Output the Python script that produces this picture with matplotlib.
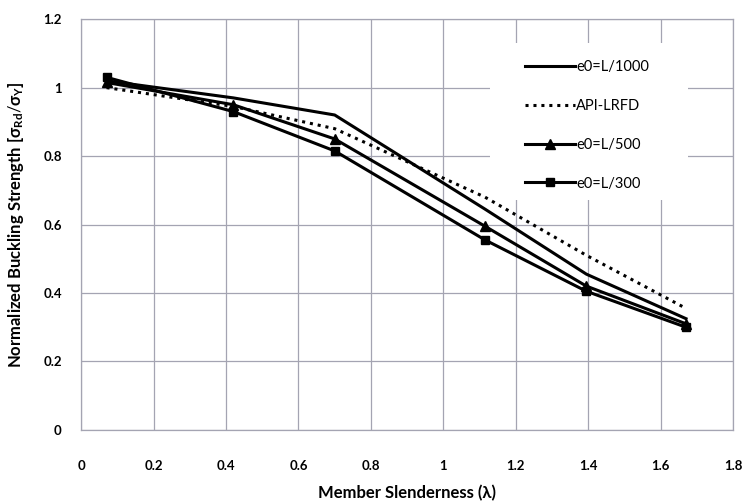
import matplotlib

matplotlib.use("Agg")
import matplotlib.pyplot as plt
from matplotlib.patches import Rectangle


SLENDERNESS = [0.07, 0.42, 0.70, 1.115, 1.395, 1.67]
E0_L1000 = [1.02, 0.97, 0.92, 0.645, 0.455, 0.325]
API_LRFD = [1.00, 0.945, 0.88, 0.68, 0.51, 0.355]
E0_L500 = [1.015, 0.95, 0.85, 0.595, 0.42, 0.31]
E0_L300 = [1.03, 0.93, 0.815, 0.555, 0.405, 0.30]

X_TICKS = [0, 0.2, 0.4, 0.6, 0.8, 1.0, 1.2, 1.4, 1.6, 1.8]
X_TICK_LABELS = ["0", "0.2", "0.4", "0.6", "0.8", "1", "1.2", "1.4", "1.6", "1.8"]
Y_TICKS = [0, 0.2, 0.4, 0.6, 0.8, 1.0, 1.2]
Y_TICK_LABELS = ["0", "0.2", "0.4", "0.6", "0.8", "1", "1.2"]

GRID_COLOR = "#a4a4b2"

plt.rcParams["font.family"] = ["Lato", "DejaVu Sans"]
plt.rcParams["mathtext.fontset"] = "custom"
plt.rcParams["mathtext.rm"] = "Lato"
plt.rcParams["mathtext.it"] = "Lato:bold"
plt.rcParams["mathtext.bf"] = "Lato:bold"

fig = plt.figure(figsize=(7.45, 5.04), dpi=100)
ax = fig.add_axes([0.109, 0.147, 0.875, 0.815])

ax.plot(SLENDERNESS, E0_L1000, color="black", linewidth=2.2, label="e0=L/1000", zorder=4)
ax.plot(SLENDERNESS, API_LRFD, color="black", linewidth=2.2, linestyle=(0, (1, 1.6)),
        label="API-LRFD", zorder=4)
ax.plot(SLENDERNESS, E0_L500, color="black", linewidth=2.2, marker="^", markersize=6.5,
        label="e0=L/500", zorder=4)
ax.plot(SLENDERNESS, E0_L300, color="black", linewidth=2.2, marker="s", markersize=6,
        label="e0=L/300", zorder=4)

ax.set_xlim(0, 1.8)
ax.set_ylim(0, 1.2)
ax.set_xticks(X_TICKS)
ax.set_xticklabels(X_TICK_LABELS)
ax.set_yticks(Y_TICKS)
ax.set_yticklabels(Y_TICK_LABELS)
ax.tick_params(axis="both", length=0, labelsize=9.5)
ax.tick_params(axis="x", pad=22)
ax.tick_params(axis="y", pad=14)
for label in ax.get_xticklabels() + ax.get_yticklabels():
    label.set_fontweight("bold")

ax.set_axisbelow(True)
ax.grid(True, color=GRID_COLOR, linewidth=0.9)
for spine in ax.spines.values():
    spine.set_color(GRID_COLOR)
    spine.set_linewidth(0.9)

# white patch behind the legend hides the grid there
ax.add_patch(Rectangle((0.627, 0.56), 0.304, 0.382, transform=ax.transAxes,
                       facecolor="white", edgecolor="none", zorder=2))

ax.legend(loc="upper left", bbox_to_anchor=(0.681, 0.90), frameon=False, fontsize=10.5,
          handlelength=3.4, handletextpad=0.1, labelspacing=1.7, borderaxespad=0,
          borderpad=0)

ax.set_xlabel("Member Slenderness (λ)", fontsize=12, fontweight="bold", labelpad=9)
ax.set_ylabel(r"Normalized Buckling Strength [$\sigma_{Rd}/\sigma_{Y}$]", fontsize=12,
              fontweight="bold", labelpad=12)

fig.savefig("out.png", dpi=100)
